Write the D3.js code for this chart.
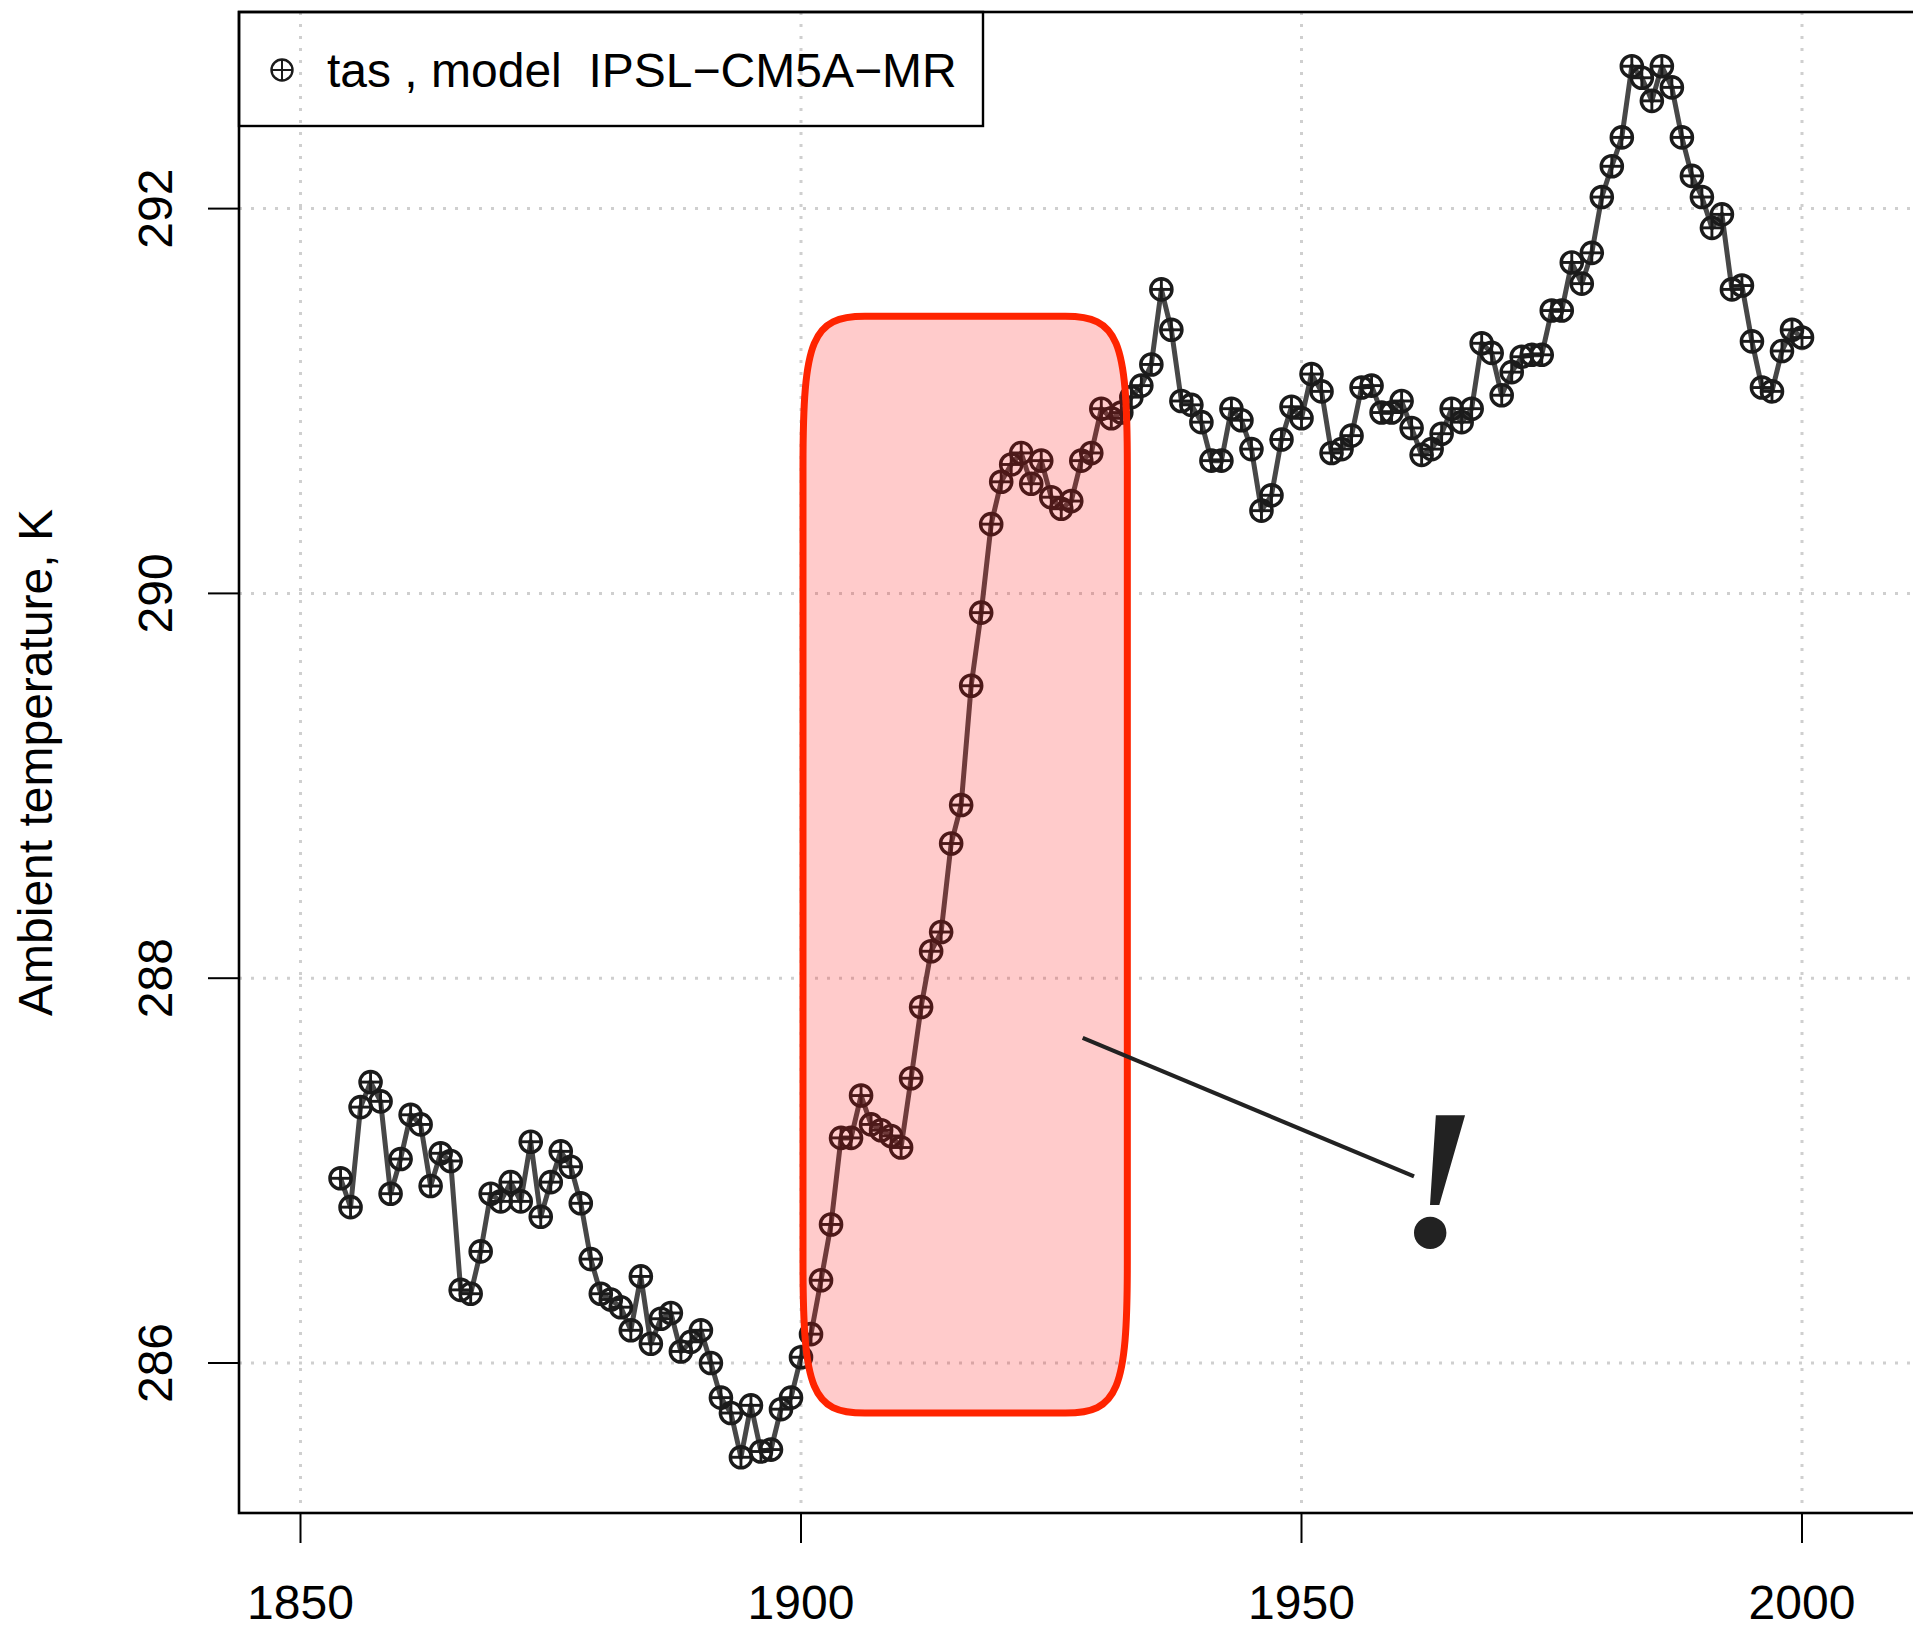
<!DOCTYPE html>
<html>
<head>
<meta charset="utf-8">
<script src="https://cdn.jsdelivr.net/npm/d3@7"></script>
<style>
  html, body { margin: 0; padding: 0; background: #fff; }
  svg { display: block; }
  text { font-family: "Liberation Sans", Arial, Helvetica, sans-serif; }
</style>
</head>
<body>
<script>
// ---------------- data ----------------
const years = d3.range(1854, 2001);
const tas = [
  286.96, 286.81, 287.33, 287.46, 287.36, 286.88, 287.06, 287.29, 287.24, 286.92, // 1854-1863
  287.09, 287.05, 286.38, 286.36, 286.58, 286.88, 286.84, 286.94, 286.84, 287.15, // 1864-1873
  286.76, 286.94, 287.10, 287.02, 286.83, 286.54, 286.36, 286.33, 286.29, 286.17, // 1874-1883
  286.45, 286.10, 286.23, 286.26, 286.06, 286.11, 286.17, 286.00, 285.82, 285.74, // 1884-1893
  285.51, 285.78, 285.54, 285.55, 285.76, 285.82, 286.03, 286.15, 286.43, 286.72, // 1894-1903
  287.17, 287.17, 287.39, 287.24, 287.21, 287.18, 287.12, 287.48, 287.85, 288.14, // 1904-1913
  288.24, 288.70, 288.90, 289.52, 289.90, 290.36, 290.58, 290.67, 290.73, 290.57, // 1914-1923
  290.69, 290.50, 290.44, 290.48, 290.69, 290.73, 290.96, 290.91, 290.94, 291.02, // 1924-1933
  291.08, 291.19, 291.58, 291.37, 291.00, 290.98, 290.89, 290.69, 290.69, 290.96, // 1934-1943
  290.90, 290.75, 290.43, 290.51, 290.80, 290.97, 290.91, 291.14, 291.05, 290.73, // 1944-1953
  290.75, 290.82, 291.07, 291.08, 290.94, 290.94, 291.00, 290.86, 290.72, 290.75, // 1954-1963
  290.83, 290.96, 290.89, 290.96, 291.30, 291.25, 291.03, 291.15, 291.23, 291.24, // 1964-1973
  291.24, 291.47, 291.47, 291.72, 291.61, 291.77, 292.06, 292.22, 292.37, 292.74, // 1974-1983
  292.68, 292.56, 292.74, 292.63, 292.37, 292.17, 292.06, 291.90, 291.97, 291.58, // 1984-1993
  291.60, 291.31, 291.07, 291.05, 291.26, 291.37, 291.33                          // 1994-2000
];
const xTicks = [1850, 1900, 1950, 2000];
const yTicks = [286, 288, 290, 292];
const yLabel = "Ambient temperature, K";
const legendLabel = "tas , model  IPSL\u2212CM5A\u2212MR";
// annotation (in data coordinates)
const highlightYears = [1900.2, 1932.6];
const highlightValues = [291.44, 285.74];
const pointerFrom = [1928.14, 287.69];
const pointerTo = [1961.24, 286.97];
const exclamAt = [1963.6, 286.61];

// ---------------- layout ----------------
const W = 1913, H = 1631;
const plotLeft = 239, plotTop = 12, plotBottom = 1513, plotRight = 1940;

const x = d3.scaleLinear().domain([1850, 2000]).range([300.5, 1802]);
const y = d3.scaleLinear().domain([286, 292]).range([1363, 208.6]);

const svg = d3.select("body").append("svg")
  .attr("width", W).attr("height", H)
  .attr("viewBox", `0 0 ${W} ${H}`);

// grid
const grid = svg.append("g").attr("stroke", "#cfcfcf").attr("stroke-width", 3)
  .attr("stroke-dasharray", "3,9").attr("fill", "none");
grid.selectAll("line.v").data(xTicks).join("line").attr("class", "v")
  .attr("x1", d => x(d)).attr("x2", d => x(d))
  .attr("y1", plotTop).attr("y2", plotBottom);
grid.selectAll("line.h").data(yTicks).join("line").attr("class", "h")
  .attr("x1", plotLeft).attr("x2", plotRight)
  .attr("y1", d => y(d)).attr("y2", d => y(d));

// series line
const data = years.map((yr, i) => ({ yr, v: tas[i] }));
const line = d3.line().x(d => x(d.yr)).y(d => y(d.v));
svg.append("path").datum(data)
  .attr("d", line)
  .attr("fill", "none")
  .attr("stroke", "#474747")
  .attr("stroke-width", 5)
  .attr("stroke-linejoin", "round");

// markers (circle with plus)
function marker(sel, r, sw) {
  sel.append("circle").attr("r", r).attr("fill", "none")
    .attr("stroke", "#1b1b1b").attr("stroke-width", sw);
  sel.append("line").attr("x1", -r).attr("x2", r).attr("y1", 0).attr("y2", 0)
    .attr("stroke", "#1b1b1b").attr("stroke-width", sw * 0.85);
  sel.append("line").attr("x1", 0).attr("x2", 0).attr("y1", -r).attr("y2", r)
    .attr("stroke", "#1b1b1b").attr("stroke-width", sw * 0.85);
}
const pts = svg.append("g").selectAll("g").data(data).join("g")
  .attr("transform", d => `translate(${x(d.yr)},${y(d.v)})`);
marker(pts, 10.6, 3.4);

// highlight box with smooth corners
(function () {
  const x0 = x(highlightYears[0]), x1 = x(highlightYears[1]);
  const y0 = y(highlightValues[0]), y1 = y(highlightValues[1]);
  const rx = 62, ry = 150, a = 0.15;
  const p = d3.path();
  p.moveTo(x0 + rx, y0);
  p.lineTo(x1 - rx, y0);
  p.bezierCurveTo(x1 - rx * a, y0, x1, y0 + ry * a, x1, y0 + ry);
  p.lineTo(x1, y1 - ry);
  p.bezierCurveTo(x1, y1 - ry * a, x1 - rx * a, y1, x1 - rx, y1);
  p.lineTo(x0 + rx, y1);
  p.bezierCurveTo(x0 + rx * a, y1, x0, y1 - ry * a, x0, y1 - ry);
  p.lineTo(x0, y0 + ry);
  p.bezierCurveTo(x0, y0 + ry * a, x0 + rx * a, y0, x0 + rx, y0);
  p.closePath();
  svg.append("path").attr("d", p.toString())
    .attr("fill", "rgb(255,20,20)").attr("fill-opacity", 0.22)
    .attr("stroke", "#ff2400").attr("stroke-width", 7);
})();

// pointer line and exclamation
svg.append("line")
  .attr("x1", x(pointerFrom[0])).attr("y1", y(pointerFrom[1]))
  .attr("x2", x(pointerTo[0])).attr("y2", y(pointerTo[1]))
  .attr("stroke", "#222").attr("stroke-width", 4.2);
svg.append("text")
  .attr("x", x(exclamAt[0])).attr("y", y(exclamAt[1]))
  .attr("text-anchor", "middle")
  .style("font-family", "'Liberation Serif', 'DejaVu Serif', serif")
  .style("font-style", "italic").style("font-weight", "bold")
  .style("font-size", "200px").attr("fill", "#222")
  .text("!");

// frame
svg.append("rect").attr("x", plotLeft).attr("y", plotTop)
  .attr("width", plotRight - plotLeft).attr("height", plotBottom - plotTop)
  .attr("fill", "none").attr("stroke", "#000").attr("stroke-width", 2.6);

// x axis
const xa = svg.append("g");
xa.selectAll("line").data(xTicks).join("line")
  .attr("x1", d => x(d)).attr("x2", d => x(d))
  .attr("y1", plotBottom).attr("y2", plotBottom + 30)
  .attr("stroke", "#000").attr("stroke-width", 2);
xa.selectAll("text").data(xTicks).join("text")
  .attr("x", d => x(d)).attr("y", 1619)
  .attr("text-anchor", "middle").style("font-size", "48px")
  .text(d => d);

// y axis
const ya = svg.append("g");
ya.selectAll("line").data(yTicks).join("line")
  .attr("x1", plotLeft - 31).attr("x2", plotLeft)
  .attr("y1", d => y(d)).attr("y2", d => y(d))
  .attr("stroke", "#000").attr("stroke-width", 2);
ya.selectAll("text").data(yTicks).join("text")
  .attr("transform", d => `translate(172,${y(d)}) rotate(-90)`)
  .attr("text-anchor", "middle").style("font-size", "48px")
  .text(d => d);
svg.append("text")
  .attr("transform", `translate(52,${(plotTop + plotBottom) / 2}) rotate(-90)`)
  .attr("text-anchor", "middle").style("font-size", "48px")
  .text(yLabel);

// legend
const lg = svg.append("g");
lg.append("rect").attr("x", plotLeft).attr("y", plotTop)
  .attr("width", 983 - plotLeft).attr("height", 126 - plotTop)
  .attr("fill", "none").attr("stroke", "#000").attr("stroke-width", 2.4);
const ls = lg.append("g").attr("transform", "translate(282,70)");
marker(ls, 10.5, 2.4);
lg.append("text").attr("x", 327).attr("y", 87)
  .style("font-size", "48px").style("white-space", "pre")
  .text(legendLabel);
</script>
</body>
</html>
